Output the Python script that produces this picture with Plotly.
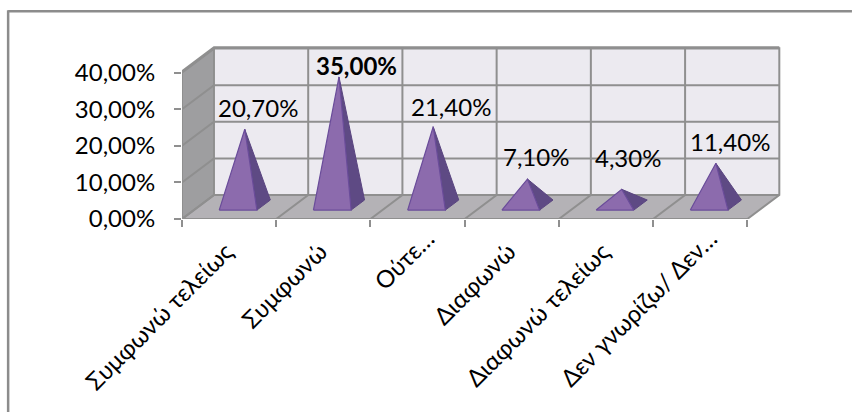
import plotly.graph_objects as go

NB = "\u00a0\u00a0\u00a0"
categories = ["Συμφωνώ τελείως", "Συμφωνώ", "Ούτε…", "Διαφωνώ", "Διαφωνώ τελείως", "Δεν γνωρίζω/ Δεν…"]
values = [20.7, 35.0, 21.4, 7.1, 4.3, 11.4]
y_ticks = [0, 10, 20, 30, 40]
y_tick_labels = ["0,00%", "10,00%", "20,00%", "30,00%", "40,00%"]

# label nudges in pixels from the apex of each pyramid
label_dx = [13, 17, 18, 9, 6, 14]
label_dy = [22, 11, 20, 23, 32, 22]
bold_flags = [False, True, False, False, False, False]

W, H = 852, 412
ML, MT, MB = 181.5, 42.7, 193.3
CAT_PX = 94.3
PCT_PX = 3.66
MR = 60.0
DX = 32 / CAT_PX      # depth offset in category units
DY = 24 / PCT_PX      # depth offset in percent units
GRID = "#8F8F8F"
FONT = "Lato"
FS = 24
n = len(categories)
TOP = 46.9 - DY
BASE_LIFT = 0.6       # pyramids stand slightly above the floor plane

def pj(x, v, d=0.0):
    return x + d * DX, v + d * DY

def poly(points, fill, line=None, lw=0):
    xs, ys = zip(*points)
    return go.Scatter(x=list(xs) + [xs[0]], y=list(ys) + [ys[0]], mode="lines", fill="toself",
                      fillcolor=fill, line=dict(color=line or fill, width=lw),
                      hoverinfo="skip", showlegend=False, cliponaxis=False)

def seg(points, color=GRID, lw=2):
    xs, ys = zip(*points)
    return go.Scatter(x=list(xs), y=list(ys), mode="lines", line=dict(color=color, width=lw),
                      hoverinfo="skip", showlegend=False, cliponaxis=False)

fig = go.Figure()
# back wall, side wall, floor
fig.add_trace(poly([pj(0, 0, 1), pj(n, 0, 1), pj(n, TOP, 1), pj(0, TOP, 1)], "#ECEAF0"))
fig.add_trace(poly([pj(0, 0), pj(0, 0, 1), pj(0, TOP, 1), pj(0, TOP)], "#9E9EA0"))
fig.add_trace(poly([pj(0, 0), pj(n, 0), pj(n, 0, 1), pj(0, 0, 1)], "#B4B2B6"))

# gridlines
for t in y_ticks:
    if t <= TOP:
        fig.add_trace(seg([pj(0, t), pj(0, t, 1), pj(n, t, 1)]))
fig.add_trace(seg([pj(0, TOP), pj(0, TOP, 1), pj(n, TOP, 1)]))
for i in range(n + 1):
    fig.add_trace(seg([pj(i, TOP, 1), pj(i, 0, 1), pj(i, 0)]))
# axis lines
fig.add_trace(seg([pj(0, 40), pj(0, 0), pj(n, 0)]))

# pyramids
D0, D1 = 0.28, 0.70
HW = 0.2
for i, v in enumerate(values):
    c = i + 0.5
    apex = pj(c, v + BASE_LIFT, 0.49)
    fl, fr = pj(c - HW, BASE_LIFT, D0), pj(c + HW, BASE_LIFT, D0)
    br = pj(c + HW, BASE_LIFT, D1)
    fig.add_trace(poly([fr, br, apex], "#5E4A84", "#5A4580", 1))
    fig.add_trace(poly([fl, fr, apex], "#8C6BAD", "#6A4C9A", 1.2))
    fig.add_annotation(x=apex[0], y=apex[1], text=(f"<b>{v:.2f}%</b>" if bold_flags[i] else f"{v:.2f}%").replace(".", ","),
                       showarrow=False, xshift=label_dx[i], yshift=label_dy[i],
                       font=dict(family=FONT, size=FS, color="#000000"))

pw = W - ML - MR
ph = H - MT - MB
def px(x): return (x - ML) / pw
def py(y): return 1 - (y - MT) / ph

border = dict(color="#8C8C8C", width=2.5)
fig.add_shape(type="line", xref="paper", yref="paper", x0=px(7.5), x1=px(852), y0=py(11), y1=py(11), line=border)
fig.add_shape(type="line", xref="paper", yref="paper", x0=px(7.5), x1=px(7.5), y0=py(10), y1=py(412), line=border)

# labels Excel cut short sit a little higher and further right than the complete ones
tick_text = [c if c.endswith("…") else c + NB for c in categories]

fig.update_layout(
    width=W, height=H, autosize=False,
    margin=dict(l=ML, r=MR, t=MT, b=MB, pad=0),
    paper_bgcolor="white", plot_bgcolor="white",
    showlegend=False,
    font=dict(family=FONT, color="#000000", size=FS),
    xaxis=dict(range=[0, pw / CAT_PX], tickmode="array", tickvals=[i + 0.606 for i in range(n)],
               ticktext=tick_text, tickangle=-45, ticks="", showgrid=False, zeroline=False,
               showline=False, tickfont=dict(family=FONT, size=FS), ticklabelstandoff=0,
               minor=dict(tickmode="array", tickvals=list(range(n + 1)), ticks="outside",
                          ticklen=7, tickwidth=2, tickcolor=GRID, showgrid=False)),
    yaxis=dict(range=[0, ph / PCT_PX], tickmode="array", tickvals=y_ticks, ticktext=y_tick_labels,
               ticks="outside", ticklen=7, tickwidth=2, tickcolor=GRID, showgrid=False,
               zeroline=False, showline=False, tickfont=dict(family=FONT, size=FS), ticklabelstandoff=14),
)

fig.write_html("out.html", config=dict(displayModeBar=False),
               post_script="document.body.style.margin='0';document.documentElement.style.overflow='hidden';")
